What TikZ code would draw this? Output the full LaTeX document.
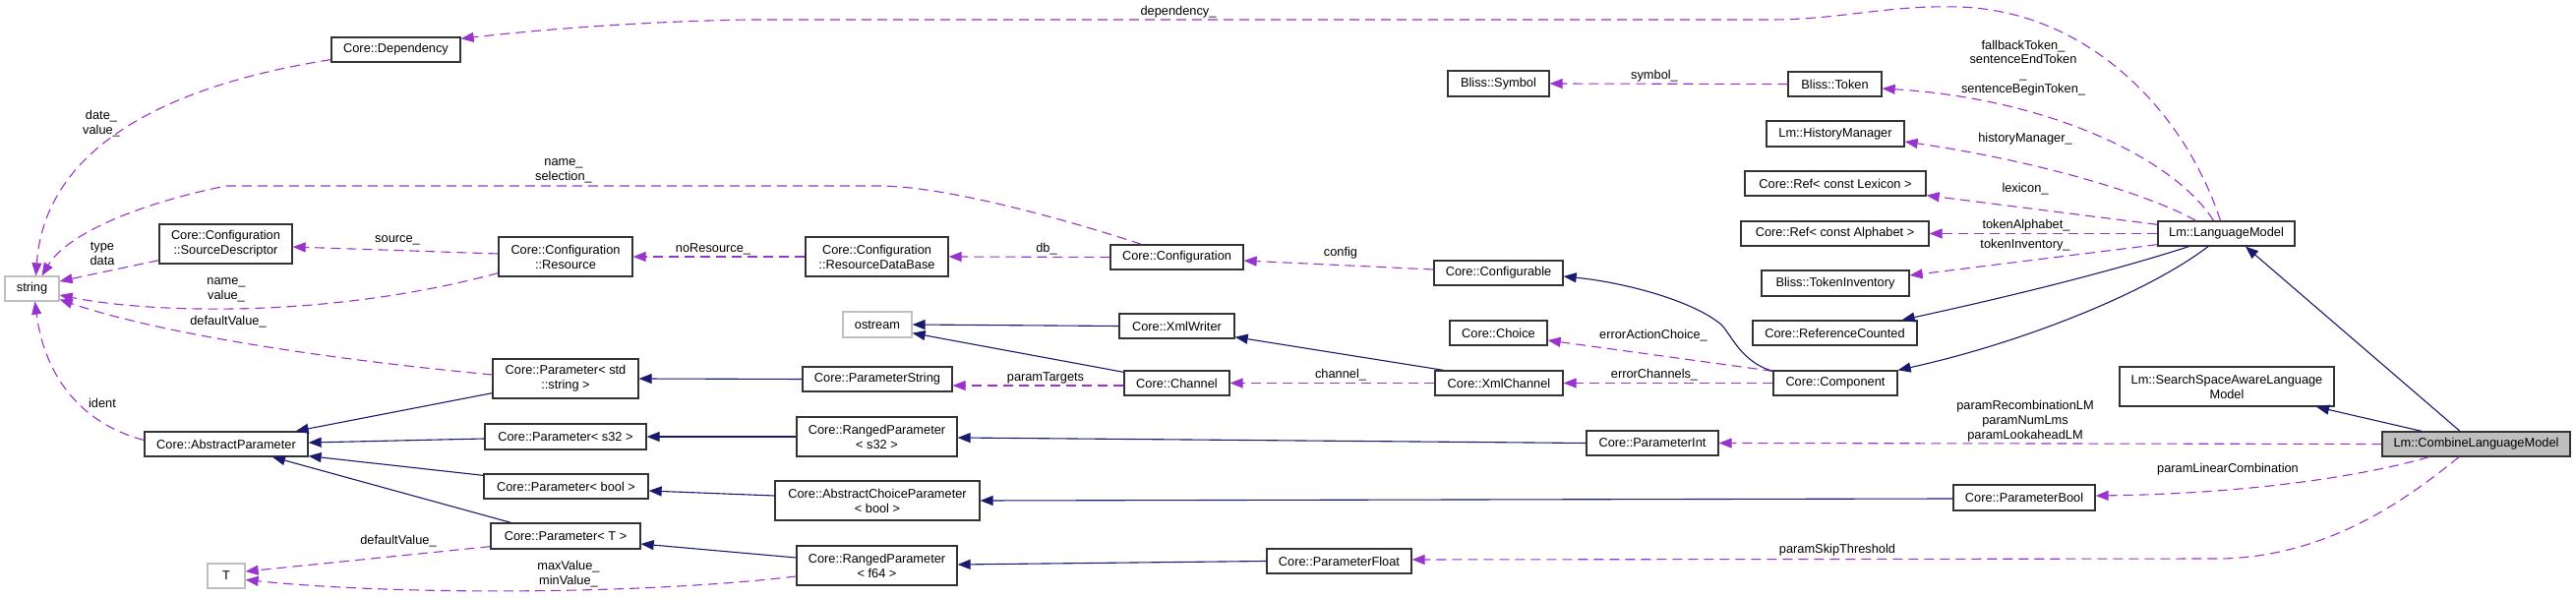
\documentclass[tikz,border=0pt]{standalone}
\usepackage{fontspec}
\setmainfont{Liberation Sans}
\usetikzlibrary{arrows.meta,calc}
\definecolor{dpurple}{HTML}{9A32CD}
\definecolor{dnavy}{HTML}{191970}
\definecolor{lgrey}{HTML}{BFBFBF}
\begin{document}
\begin{tikzpicture}[x=0.5pt,y=-0.5pt,
  box/.style={draw=black!80, line width=0.65pt, fill=white, inner sep=0pt, align=center, font=\fontsize{6.4}{7.5}\selectfont},
  gbox/.style={box, draw=lgrey},
  sz/.style 2 args={minimum width=#1pt, minimum height=#2pt},
  lbl/.style={inner sep=0pt, align=center, font=\fontsize{6.4}{7.4}\selectfont},
  use/.style={draw=dpurple, line width=0.55pt, dash pattern=on 5pt off 3pt, -{Triangle[length=6.5pt,width=5pt,fill=dpurple]}},
  inh/.style={draw=dnavy, line width=0.55pt, -{Triangle[length=6.5pt,width=5pt,fill=dnavy]}}]
\useasboundingbox[fill=white] (0,0) rectangle (2619,608);

% nodes
\node[box, sz={65.5}{12.5}] (dep) at (402.5,50.5) {Core::Dependency};
\node[gbox, sz={27.5}{12.5}] (str) at (32.5,293.5) {string};
\node[box, sz={67.5}{20}] (srcd) at (229.5,248) {Core::Configuration\\::SourceDescriptor};
\node[box, sz={68}{20}] (res) at (575,261) {Core::Configuration\\::Resource};
\node[box, sz={72.5}{20}] (rdb) at (891.5,261) {Core::Configuration\\::ResourceDataBase};
\node[box, sz={67.5}{12.5}] (conf) at (1196.5,261.5) {Core::Configuration};
\node[box, sz={51.5}{13}] (sym) at (1523.5,85) {Bliss::Symbol};
\node[box, sz={65.5}{12.5}] (cfgb) at (1523.5,277.5) {Core::Configurable};
\node[box, sz={47.5}{12.5}] (tok) at (1865.5,85.5) {Bliss::Token};
\node[box, sz={70}{13}] (hm) at (1866,136) {Lm::HistoryManager};
\node[box, sz={92}{12.5}] (lex) at (1866,186.5) {Core::Ref< const Lexicon >};
\node[box, sz={95.5}{12.5}] (alph) at (1865.5,237.5) {Core::Ref< const Alphabet >};
\node[box, sz={75}{13}] (tinv) at (1866,288) {Bliss::TokenInventory};
\node[box, sz={69.5}{12.5}] (lm) at (2263.5,237.5) {Lm::LanguageModel};
\node[box, sz={83}{12.5}] (ap) at (230,451.5) {Core::AbstractParameter};
\node[gbox, sz={19}{12.5}] (T) at (230,585.5) {T};
\node[box, sz={74}{20}] (pstr) at (575,385) {Core::Parameter< std\\::string >};
\node[box, sz={82}{13}] (ps32) at (575,444) {Core::Parameter< s32 >};
\node[box, sz={83.5}{12.5}] (pbool) at (575.5,494.5) {Core::Parameter< bool >};
\node[box, sz={76}{13}] (pT) at (575,545) {Core::Parameter< T >};
\node[gbox, sz={35}{13}] (ostr) at (892,330) {ostream};
\node[box, sz={76}{12.5}] (pstring) at (892,385.5) {Core::ParameterString};
\node[box, sz={81.5}{20}] (rs32) at (891.5,444) {Core::RangedParameter\\< s32 >};
\node[box, sz={104}{20}] (acp) at (892,509) {Core::AbstractChoiceParameter\\< bool >};
\node[box, sz={81.5}{20}] (rf64) at (891.5,575) {Core::RangedParameter\\< f64 >};
\node[box, sz={58.5}{12.5}] (xw) at (1196.5,331.5) {Core::XmlWriter};
\node[box, sz={53.5}{12.5}] (ch) at (1196.5,389.5) {Core::Channel};
\node[box, sz={73.5}{12.5}] (pf) at (1361.5,570.5) {Core::ParameterFloat};
\node[box, sz={49.5}{12.5}] (choice) at (1523.5,338.5) {Core::Choice};
\node[box, sz={65}{12.5}] (xc) at (1524,389.5) {Core::XmlChannel};
\node[box, sz={67}{12.5}] (pint) at (1680,450.5) {Core::ParameterInt};
\node[box, sz={83.5}{12.5}] (rc) at (1865.5,338.5) {Core::ReferenceCounted};
\node[box, sz={63}{12.5}] (comp) at (1866,389.5) {Core::Component};
\node[box, sz={72}{13}] (pbo) at (2058,506) {Core::ParameterBool};
\node[box, sz={109}{20}] (ssa) at (2264,393) {Lm::SearchSpaceAwareLanguage\\Model};
\node[box, sz={95.5}{12.5}, fill=lgrey] (clm) at (2517.5,451.5) {Lm::CombineLanguageModel};

% usage (dashed) edges
\draw[use] ($(dep.south west)+(0,-3)$) .. controls (150,90) and (45,160) .. ($(str.north)+(4,0)$);
\draw[use] ($(conf.north)+(-36,0)$) .. controls (1080,222) and (960,189) .. (893,189) -- (230,189) .. controls (150,205) and (70,235) .. ($(str.north)+(10,0)$);
\draw[use] ($(srcd.south west)+(0,-4)$) -- ($(str.east)+(0,-7.5)$);
\draw[use] ($(res.west)+(0,-3)$) -- ($(srcd.east)+(0,3)$);
\draw[use] ($(res.south west)+(0,-4)$) .. controls (330,325) and (150,318) .. ($(str.east)+(0,6.5)$);
\draw[use] ($(pstr.west)+(0,-4)$) .. controls (300,362) and (150,335) .. ($(str.east)+(0,11)$);
\draw[use] ($(ap.west)+(0,-4)$) .. controls (80,430) and (45,380) .. ($(str.south)+(3,0)$);
\draw[use] ($(pT.south west)+(0,-3)$) -- ($(T.east)+(0,-4.5)$);
\draw[use] ($(rf64.west)+(0,11)$) .. controls (650,605) and (400,605) .. ($(T.east)+(0,4)$);
\draw[use] (conf.west) -- (rdb.east);
\draw[use] (rdb.west) -- (res.east);
\draw[use] ($(cfgb.west)+(0,-3.5)$) -- ($(conf.east)+(0,3.5)$);
\draw[use] ($(lm.north)+(-6,0)$) .. controls (2220,110) and (2120,10) .. (1990,7) .. controls (1920,5) and (1870,20) .. (1800,20) -- (760,20) .. controls (650,22) and (550,30) .. ($(dep.north east)+(0,2)$);
\draw[use] ($(lm.north)+(-13,0)$) .. controls (2210,160) and (2080,100) .. ($(tok.east)+(0,4.5)$);
\draw[use] (tok.west) -- (sym.east);
\draw[use] ($(lm.north)+(-31,0)$) .. controls (2190,200) and (2080,165) .. ($(hm.east)+(0,8)$);
\draw[use] ($(lm.north west)+(0,4)$) -- ($(lex.south east)+(0,-1)$);
\draw[use] (lm.west) -- (alph.east);
\draw[use] ($(lm.south west)+(0,-2)$) -- ($(tinv.east)+(0,-8)$);
\draw[use] ($(comp.north west)+(0,1)$) -- ($(choice.east)+(0,7.5)$);
\draw[use] (comp.west) -- (xc.east);
\draw[use] (xc.west) -- (ch.east);
\draw[use] ($(ch.west)+(0,2.5)$) -- ($(pstring.east)+(0,6.5)$);
\draw[use] (clm.west) -- (pint.east);
\draw[use] ($(clm.south)+(-48,0)$) .. controls (2400,485) and (2280,502) .. ($(pbo.east)+(0,-2)$);
\draw[use] ($(clm.south)+(-17.5,0)$) .. controls (2450,505) and (2370,565) .. (2260,568) -- ($(pf.east)+(0,-1.5)$);

% inheritance (solid) edges
\draw[inh] ($(pstr.south west)+(0,-6)$) -- ($(ap.north east)+(-13,0)$);
\draw[inh] ($(ps32.west)+(0,2)$) -- ($(ap.east)+(0,-1.5)$);
\draw[inh] ($(pbool.north west)+(0,2)$) -- ($(ap.south east)+(0,-1)$);
\draw[inh] ($(pT.north west)+(21,0)$) -- ($(ap.south)+(47,0)$);
\draw[inh] (pstring.west) -- (pstr.east);
\draw[inh] (rs32.west) -- (ps32.east);
\draw[inh] ($(acp.west)+(0,-5)$) -- ($(pbool.east)+(0,4.5)$);
\draw[inh] ($(rf64.west)+(0,-8)$) -- ($(pT.east)+(0,8)$);
\draw[inh] (pint.west) -- ($(rs32.east)+(0,1)$);
\draw[inh] ($(pbo.west)+(0,1)$) -- (acp.east);
\draw[inh] (pf.west) -- ($(rf64.east)+(0,-1)$);
\draw[inh] (xw.west) -- (ostr.east);
\draw[inh] ($(ch.north west)+(0,2)$) -- ($(ostr.south east)+(0,-5)$);
\draw[inh] ($(xc.north west)+(9,0)$) -- ($(xw.south east)+(0,-2)$);
\draw[inh] ($(comp.north west)+(0,1)$) .. controls (1770,368) and (1760,340) .. (1750,330) .. controls (1720,305) and (1650,287) .. ($(cfgb.east)+(0,3.5)$);
\draw[inh] ($(lm.south west)+(32,0)$) .. controls (2150,275) and (2050,300) .. ($(rc.north east)+(-16,0)$);
\draw[inh] ($(lm.south)+(-18.5,0)$) .. controls (2180,300) and (2050,350) .. (comp.north east);
\draw[inh] ($(clm.north)+(-16.5,0)$) -- ($(lm.south)+(19.5,0)$);
\draw[inh] ($(clm.north)+(-55.5,0)$) -- ($(ssa.south)+(91,0)$);

% edge labels
\node[lbl] (l1) at (1198,12) {dependency\_};
\node[lbl] (l2) at (103,125.5) {date\_\\value\_};
\node[lbl] (l3) at (573,174) {name\_\\selection\_};
\node[lbl] (l4) at (104,258) {type\\data};
\node[lbl] (l5) at (404,244) {source\_};
\node[lbl] (l6) at (230,295) {name\_\\value\_};
\node[lbl] (l7) at (725,253) {noResource\_};
\node[lbl] (l8) at (1064,253) {db\_};
\node[lbl] (l9) at (1363,257) {config};
\node[lbl] (l10) at (1682,77) {symbol\_};
\node[lbl] (l11) at (2057,69) {fallbackToken\_\\sentenceEndToken\\\_\\sentenceBeginToken\_};
\node[lbl] (l12) at (2059,141) {historyManager\_};
\node[lbl] (l13) at (2059,192) {lexicon\_};
\node[lbl] (l14) at (2060,229) {tokenAlphabet\_};
\node[lbl] (l15) at (2059,249) {tokenInventory\_};
\node[lbl] (l16) at (232,327) {defaultValue\_};
\node[lbl] (l17) at (104,410) {ident};
\node[lbl] (l18) at (405,550) {defaultValue\_};
\node[lbl] (l19) at (578,584) {maxValue\_\\minValue\_};
\node[lbl] (l20) at (1063,384) {paramTargets};
\node[lbl] (l21) at (1363,381) {channel\_};
\node[lbl] (l22) at (1681,341) {errorActionChoice\_};
\node[lbl] (l23) at (1682,381) {errorChannels\_};
\node[lbl] (l24) at (2059,428) {paramRecombinationLM\\paramNumLms\\paramLookaheadLM};
\node[lbl] (l25) at (2265,477) {paramLinearCombination};
\node[lbl] (l26) at (1868,559) {paramSkipThreshold};
\end{tikzpicture}
\end{document}
